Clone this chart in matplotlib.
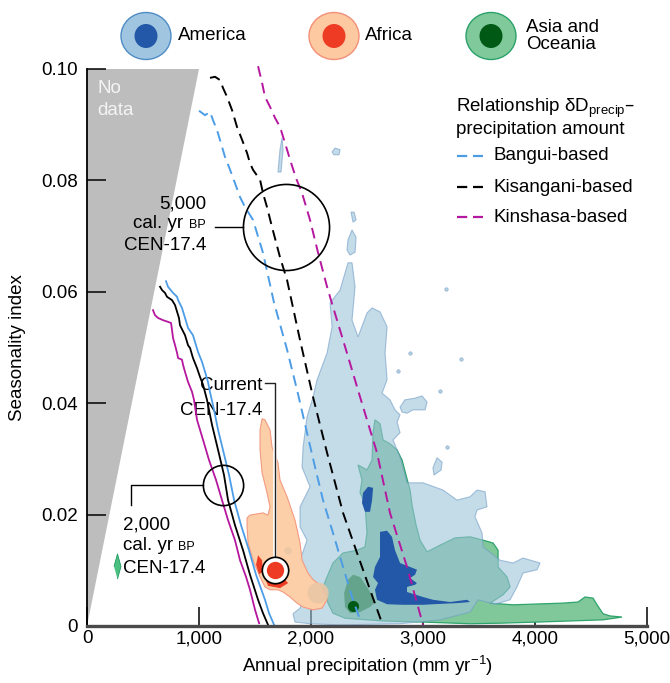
import matplotlib.pyplot as plt
import matplotlib.patheffects as pe
from matplotlib.patches import Ellipse

plt.rcParams['font.family'] = ['Liberation Sans', 'DejaVu Sans']
plt.rcParams['mathtext.default'] = 'regular'
plt.rcParams['font.size'] = 13.5

# ---- data (annual precipitation in mm/yr, seasonality index) ----
no_data = [(0, 0), (0, 0.1), (1000, 0.1)]

# 2,000 cal. yr BP (solid)
sol_blue = [(705, 0.0619), (723, 0.0609), (768, 0.0598), (804, 0.0591), (813, 0.0585), (848, 0.0571),
            (875, 0.0553), (902, 0.0535), (946, 0.0522), (964, 0.0510), (991, 0.0492), (1027, 0.0474),
            (1054, 0.0456), (1080, 0.0438), (1098, 0.0420), (1134, 0.0388), (1170, 0.0352), (1214, 0.0316),
            (1268, 0.0271), (1313, 0.0226), (1375, 0.0181), (1446, 0.0136), (1509, 0.0092), (1589, 0.0047),
            (1625, 0.0023), (1670, 0.0002)]
sol_black = [(652, 0.0609), (670, 0.0603), (696, 0.0598), (714, 0.0591), (759, 0.0585), (786, 0.0576),
             (804, 0.0564), (821, 0.0553), (830, 0.0540), (875, 0.0522), (902, 0.0504), (920, 0.0499),
             (946, 0.0481), (982, 0.0463), (1009, 0.0447), (1036, 0.0433), (1071, 0.0406), (1116, 0.0361),
             (1170, 0.0316), (1223, 0.0271), (1259, 0.0226), (1321, 0.0181), (1393, 0.0136), (1455, 0.0092),
             (1527, 0.0047), (1571, 0.0023), (1616, 0.0002)]
sol_mag = [(589, 0.0567), (607, 0.0558), (634, 0.0553), (679, 0.0549), (723, 0.0546), (750, 0.0544),
           (759, 0.0531), (768, 0.0517), (786, 0.0504), (804, 0.0490), (813, 0.0481), (848, 0.0478),
           (857, 0.0469), (875, 0.0456), (902, 0.0438), (938, 0.0420), (955, 0.0406), (982, 0.0370),
           (1036, 0.0334), (1089, 0.0298), (1152, 0.0262), (1205, 0.0226), (1259, 0.0190), (1321, 0.0154),
           (1366, 0.0118), (1420, 0.0088), (1455, 0.0065), (1500, 0.0029), (1536, 0.0005)]

# 5,000 cal. yr BP (dashed)
dash_blue = [(1000, 0.0925), (1054, 0.0917), (1098, 0.0923), (1125, 0.0908), (1161, 0.0890), (1188, 0.0872),
             (1232, 0.0842), (1277, 0.0819), (1321, 0.0795), (1366, 0.0770), (1411, 0.0752), (1482, 0.0729),
             (1571, 0.0670), (1670, 0.0580), (1786, 0.0496), (1875, 0.0424), (1964, 0.0347), (2036, 0.0285),
             (2107, 0.0226), (2196, 0.0167), (2286, 0.0106), (2366, 0.0052), (2438, 0.0011)]
dash_black = [(1098, 0.0984), (1143, 0.0986), (1188, 0.0980), (1214, 0.0966), (1250, 0.0950), (1295, 0.0926),
              (1339, 0.0896), (1384, 0.0873), (1429, 0.0849), (1455, 0.0831), (1482, 0.0819), (1527, 0.0806),
              (1545, 0.0801), (1571, 0.0777), (1607, 0.0752), (1652, 0.0716), (1723, 0.0662), (1786, 0.0621),
              (1902, 0.0513), (2018, 0.0411), (2143, 0.0311), (2286, 0.0203), (2411, 0.0131), (2527, 0.0065),
              (2643, 0.0000)]
dash_mag = [(1527, 0.1005), (1563, 0.0975), (1589, 0.0950), (1634, 0.0932), (1679, 0.0912), (1723, 0.0896),
            (1768, 0.0867), (1813, 0.0837), (1866, 0.0804), (1920, 0.0777), (1991, 0.0729), (2063, 0.0670),
            (2143, 0.0609), (2196, 0.0573), (2321, 0.0490), (2438, 0.0411), (2589, 0.0311), (2705, 0.0203),
            (2857, 0.0106), (3000, 0.0002)]

# America contours
america_outer = [(1857, 0.0007), (1839, 0.0022), (1902, 0.0032), (1946, 0.0065), (1902, 0.0118), (1964, 0.0154),
                 (1902, 0.0178), (1902, 0.0214), (1991, 0.0250), (1920, 0.0285), (1929, 0.0321), (1964, 0.0375),
                 (2018, 0.0411), (2054, 0.0442), (2143, 0.0490), (2188, 0.0537), (2170, 0.0580), (2259, 0.0603),
                 (2330, 0.0652), (2366, 0.0652), (2393, 0.0609), (2366, 0.0549), (2420, 0.0519), (2500, 0.0562),
                 (2545, 0.0571), (2616, 0.0564), (2679, 0.0537), (2661, 0.0490), (2679, 0.0442), (2634, 0.0418),
                 (2705, 0.0406), (2750, 0.0388), (2795, 0.0379), (2768, 0.0366), (2795, 0.0347), (2732, 0.0334),
                 (2795, 0.0303), (2857, 0.0257), (3000, 0.0257), (3179, 0.0244), (3304, 0.0226), (3420, 0.0232),
                 (3482, 0.0244), (3554, 0.0241), (3571, 0.0214), (3482, 0.0208), (3464, 0.0196), (3527, 0.0167),
                 (3536, 0.0142), (3688, 0.0118), (3804, 0.0113), (3893, 0.0122), (4045, 0.0113), (4018, 0.0101),
                 (3893, 0.0095), (3839, 0.0070), (3777, 0.0047), (3643, 0.0039), (3491, 0.0047), (3420, 0.0025),
                 (3152, 0.0011), (2795, 0.0004), (2259, 0.0002), (1991, 0.0004)]
america_islands = [
    [(2795, 0.0393), (2839, 0.0406), (2929, 0.0409), (2991, 0.0413), (3036, 0.0402), (3018, 0.0388),
     (2911, 0.0388), (2857, 0.0382), (2813, 0.0384)],
    [(3125, 0.0302), (3170, 0.0294), (3161, 0.0280), (3098, 0.0271), (3089, 0.0284)],
    [(2357, 0.0743), (2384, 0.0743), (2402, 0.0729), (2375, 0.0725)],
    [(2366, 0.0711), (2402, 0.0698), (2393, 0.0671), (2348, 0.0666), (2321, 0.0675), (2330, 0.0693)],
    [(1705, 0.0815), (1723, 0.0855), (1741, 0.0876), (1750, 0.0855), (1732, 0.0815)],
    [(2188, 0.0851), (2214, 0.0858), (2259, 0.0855), (2250, 0.0846), (2205, 0.0846)],
]
america_specks_x = [3205, 3339, 2884, 3152, 2777, 3214]
america_specks_y = [0.0605, 0.0479, 0.0490, 0.0422, 0.0458, 0.0321]
america_core = [
    [(2509, 0.0250), (2554, 0.0248), (2545, 0.0226), (2527, 0.0205), (2482, 0.0205), (2455, 0.0221),
     (2464, 0.0239)],
    [(2616, 0.0169), (2679, 0.0171), (2723, 0.0160), (2750, 0.0136), (2795, 0.0113), (2884, 0.0106),
     (2946, 0.0101), (2929, 0.0092), (2884, 0.0086), (2946, 0.0077), (2929, 0.0074), (2857, 0.0070),
     (2857, 0.0061), (3000, 0.0052), (3089, 0.0047), (3241, 0.0043), (3393, 0.0047), (3420, 0.0043),
     (3304, 0.0041), (3089, 0.0039), (3000, 0.0038), (2821, 0.0038), (2679, 0.0039), (2589, 0.0047),
     (2571, 0.0065), (2598, 0.0077), (2554, 0.0088), (2571, 0.0106), (2616, 0.0124), (2616, 0.0154)],
]

# Asia and Oceania contours
asia_outer = [(2571, 0.0370), (2616, 0.0363), (2643, 0.0334), (2705, 0.0327), (2768, 0.0316), (2813, 0.0298),
              (2848, 0.0271), (2884, 0.0244), (2902, 0.0217), (2938, 0.0181), (2973, 0.0154), (3036, 0.0133),
              (3152, 0.0145), (3286, 0.0158), (3420, 0.0160), (3536, 0.0154), (3625, 0.0149), (3670, 0.0136),
              (3670, 0.0106), (3750, 0.0088), (3777, 0.0070), (3714, 0.0056), (3598, 0.0041), (3804, 0.0038),
              (4250, 0.0041), (4384, 0.0043), (4446, 0.0052), (4518, 0.0050), (4554, 0.0038), (4607, 0.0022),
              (4670, 0.0018), (4777, 0.0016), (4607, 0.0011), (4313, 0.0009), (4018, 0.0007), (3688, 0.0005),
              (3420, 0.0004), (3000, 0.0007), (2643, 0.0009), (2304, 0.0014), (2196, 0.0023), (2152, 0.0041),
              (2107, 0.0070), (2143, 0.0088), (2196, 0.0113), (2286, 0.0131), (2411, 0.0136), (2482, 0.0142),
              (2500, 0.0167), (2482, 0.0221), (2438, 0.0239), (2455, 0.0262), (2420, 0.0289), (2500, 0.0280),
              (2545, 0.0298), (2554, 0.0347)]
asia_mid = [(2375, 0.0092), (2438, 0.0088), (2500, 0.0070), (2554, 0.0052), (2571, 0.0043), (2527, 0.0034),
            (2438, 0.0025), (2348, 0.0023), (2304, 0.0034), (2295, 0.0059), (2330, 0.0083)]
asia_core = (2375, 0.0036)

# Africa contours
africa_outer = [(1563, 0.0372), (1589, 0.0370), (1634, 0.0352), (1652, 0.0321), (1705, 0.0293), (1723, 0.0262),
                (1786, 0.0232), (1857, 0.0190), (1902, 0.0149), (1920, 0.0118), (1973, 0.0095), (2018, 0.0083),
                (2080, 0.0074), (2125, 0.0059), (2143, 0.0047), (2098, 0.0032), (2018, 0.0029), (1929, 0.0034),
                (1875, 0.0041), (1813, 0.0052), (1750, 0.0061), (1705, 0.0065), (1634, 0.0065), (1589, 0.0070),
                (1545, 0.0088), (1482, 0.0118), (1438, 0.0149), (1429, 0.0178), (1429, 0.0194), (1455, 0.0199),
                (1571, 0.0203), (1616, 0.0199), (1634, 0.0214), (1607, 0.0239), (1563, 0.0275), (1545, 0.0316),
                (1545, 0.0352)]
africa_core = [
    [(1527, 0.0127), (1563, 0.0118), (1571, 0.0097), (1536, 0.0093), (1509, 0.0110)],
    [(1589, 0.0086), (1679, 0.0075), (1768, 0.0083), (1795, 0.0077), (1723, 0.0068), (1616, 0.0072)],
]
africa_tan_x = [2063, 1795]
africa_tan_y = [0.0059, 0.0135]

# CEN-17.4 points
current = (1679, 0.01005)
bp2000 = (1214, 0.0253)
bp5000 = (1777, 0.0716)

xticks = [0, 1000, 2000, 3000, 4000, 5000]
xticklabels = ['0', '1,000', '2,000', '3,000', '4,000', '5,000']
yticks = [0, 0.02, 0.04, 0.06, 0.08, 0.10]
yticklabels = ['0', '0.02', '0.04', '0.06', '0.08', '0.10']

BLUE = '#4d9de6'
MAG = '#b5179e'


def fill(ax, pts, **kw):
    xs, ys = zip(*pts)
    ax.fill(xs, ys, **kw)


def line(ax, pts, **kw):
    xs, ys = zip(*pts)
    ax.plot(xs, ys, **kw)


fig = plt.figure(figsize=(6.7, 6.83), dpi=100)
ax = fig.add_axes([0.1299, 0.0835, 0.8358, 0.8155])
ax.set_xlim(0, 5000)
ax.set_ylim(0, 0.1)

fill(ax, no_data, color='#bdbdbd', lw=0, zorder=1)
ax.text(89, 0.0957, 'No', color='#f4f4f4', ha='left', va='baseline', zorder=2)
ax.text(89, 0.0917, 'data', color='#f4f4f4', ha='left', va='baseline', zorder=2)

# regions
fill(ax, asia_outer, fc='#80c79a', ec='#2ea46c', lw=0.9, zorder=2)
fill(ax, america_outer, fc='#9ec3da', ec='#6f9cc6', lw=0.8, alpha=0.6, zorder=3)
for isl in america_islands:
    fill(ax, isl, fc='#9ec3da', ec='#6f9cc6', lw=0.8, alpha=0.6, zorder=3)
ax.scatter(america_specks_x, america_specks_y, s=6, c='#b6d0e3', edgecolors='#8fb0cf', lw=0.5, zorder=3)
fill(ax, asia_mid, fc='#3f8a63', ec='none', alpha=0.55, zorder=4)
fill(ax, africa_outer, fc='#fdcfa8', ec='#f39a80', lw=0.8, zorder=4)
ax.scatter(africa_tan_x, africa_tan_y, s=[230, 30], c='#eac7a6', alpha=0.9, lw=0, zorder=4.5)
for core in america_core:
    fill(ax, core, fc='#2357a7', ec='none', zorder=5)
for core in africa_core:
    fill(ax, core, fc='#ee3b24', ec='none', zorder=5)
ax.plot(*asia_core, 'o', ms=7, color='#005a16', zorder=6)

# 2,000 yr BP lines
line(ax, sol_mag, color=MAG, lw=1.3, zorder=7)
line(ax, sol_black, color='black', lw=1.3, zorder=7)
line(ax, sol_blue, color=BLUE, lw=1.3, zorder=7)
# 5,000 yr BP lines
ds = (0, (5.5, 3.3))
line(ax, dash_blue, color=BLUE, lw=1.4, ls=ds, zorder=7)
line(ax, dash_black, color='black', lw=1.4, ls=ds, zorder=7)
line(ax, dash_mag, color=MAG, lw=1.4, ls=ds, zorder=7, clip_on=False)

# annotation circles
ax.plot(*bp5000, 'o', ms=62, mfc='none', mec='black', mew=1.2, zorder=8)
ax.plot([1143, 1393], [bp5000[1], bp5000[1]], color='black', lw=1, zorder=8)
ax.text(1063, 0.0750, '5,000', ha='right', va='baseline')
ax.text(857, 0.0715, 'cal. yr', ha='right', va='baseline')
ax.text(1063, 0.0715, 'BP', ha='right', va='baseline', fontsize=9)
ax.text(1063, 0.0675, 'CEN-17.4', ha='right', va='baseline')

ax.plot(*bp2000, 'o', ms=29, mfc='none', mec='black', mew=1.2, zorder=8)
ax.plot([1036, 393, 393], [bp2000[1], bp2000[1], 0.0217], color='black', lw=1, zorder=8)
ax.text(321, 0.0174, '2,000', ha='left', va='baseline')
ax.text(321, 0.0136, 'cal. yr', ha='left', va='baseline')
ax.text(813, 0.0136, 'BP', ha='left', va='baseline', fontsize=9)
ax.text(321, 0.0095, 'CEN-17.4', ha='left', va='baseline')
ax.plot(268, 0.0108, marker=[(0, -1), (0.28, 0), (0, 1), (-0.28, 0)], ms=18,
        mfc='#4cc080', mec='#1e9a5e', mew=0.6, zorder=8)

ax.plot([current[0], current[0], 1589], [0.0124, 0.0436, 0.0436], color='#222222', lw=1, zorder=8,
        path_effects=[pe.Stroke(linewidth=2.6, foreground='white'), pe.Normal()])
ax.plot(*current, 'o', ms=19, mfc='white', mec='black', mew=1.2, zorder=9)
ax.plot(*current, 'o', ms=12.5, mfc='#ee3b24', mec='none', zorder=10)
ax.text(1563, 0.0424, 'Current', ha='right', va='baseline')
ax.text(1563, 0.0379, 'CEN-17.4', ha='right', va='baseline')

# right legend
ax.text(3295, 0.0923, 'Relationship \u03b4D$_{precip}$\u2013', ha='left', va='baseline')
ax.text(3295, 0.0883, 'precipitation amount', ha='left', va='baseline')
leg = [('Bangui-based', BLUE, 0.0844), ('Kisangani-based', 'black', 0.0788), ('Kinshasa-based', MAG, 0.0734)]
for name, col, yy in leg:
    ax.plot([3304, 3536], [yy, yy], color=col, lw=1.6, ls=(0, (4.6, 2.6)), zorder=8)
    ax.text(3625, yy, name, ha='left', va='center')

# top legend
for cx, fc, ec, ic, lab, tx in [(146, '#9fc5e0', '#4f8cc4', '#2357a7', 'America', 178),
                                (334, '#fdc9a0', '#f2907a', '#ee3b24', 'Africa', 365),
                                (491, '#7fc99a', '#2aa16a', '#005a16', 'Asia and\nOceania', 526)]:
    fig.add_artist(Ellipse((cx / 670, 1 - 36 / 683), 50 / 670, 47 / 683, fc=fc, ec=ec, lw=1,
                           transform=fig.transFigure))
    fig.add_artist(Ellipse((cx / 670, 1 - 36 / 683), 23 / 670, 24 / 683, fc=ic, ec='none',
                           transform=fig.transFigure))
    fig.text(tx / 670, 1 - 36 / 683, lab, ha='left', va='center', linespacing=1.0)

# axes styling
for s in ['top', 'right']:
    ax.spines[s].set_visible(False)
ax.spines['left'].set_linewidth(1.3)
ax.spines['left'].set_zorder(9)
ax.spines['bottom'].set_color('#4a4a4a')
ax.spines['bottom'].set_linewidth(2.4)
ax.spines['bottom'].set_zorder(9)
ax.set_xticks(xticks)
ax.set_xticklabels(xticklabels)
ax.set_yticks(yticks)
ax.set_yticklabels(yticklabels)
ax.tick_params(axis='both', direction='in', length=13.5, width=1.1, zorder=9)
ax.tick_params(axis='x', pad=3)
ax.tick_params(axis='y', pad=6.5)
ax.set_xlabel('Annual precipitation (mm yr$^{\u22121}$)')
ax.xaxis.set_label_coords(0.5, -0.05)
ax.xaxis.label.set_va('top')
ax.set_ylabel('Seasonality index')
ax.yaxis.set_label_coords(-0.109, 0.5)

fig.savefig('out.png', dpi=100)
